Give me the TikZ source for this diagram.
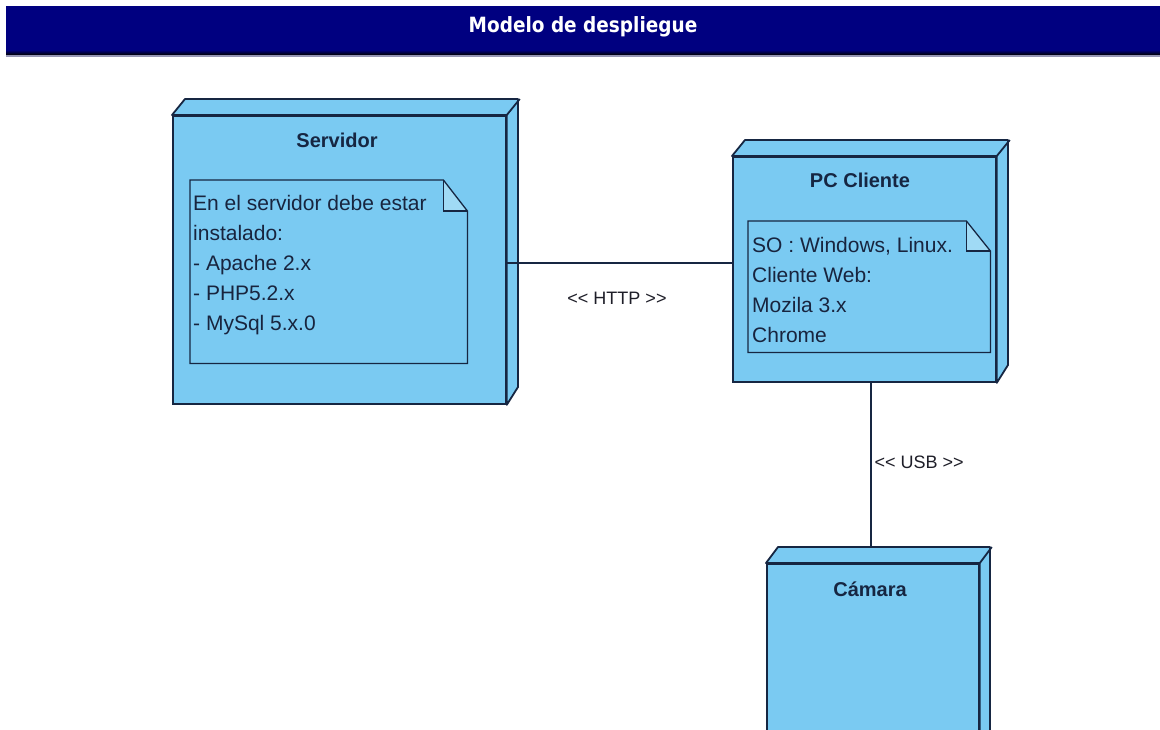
\documentclass[tikz,border=0pt]{standalone}
\usepackage{fontspec}
\setmainfont{Liberation Sans}
\newfontfamily\titlefont{DejaVu Sans}[FakeStretch=0.88]
\definecolor{nodefill}{RGB}{122,202,242}
\definecolor{foldfill}{RGB}{160,218,245}
\definecolor{edge}{RGB}{22,38,66}
\definecolor{navybar}{RGB}{0,0,128}
\definecolor{notetext}{RGB}{24,36,62}
\definecolor{labeltext}{RGB}{30,30,40}
\definecolor{barline}{RGB}{150,150,180}
\tikzset{
  front/.style={draw=edge, fill=nodefill, line width=1.8pt, inner sep=0pt, anchor=north west},
  side/.style={draw=edge, fill=nodefill, line width=1.8pt, line join=round},
  notearea/.style={inner sep=0pt, anchor=north west},
  noteline/.style={draw=edge, line width=1.3pt, line join=miter},
  notetxt/.style={inner sep=0pt, anchor=north west, align=left, text=notetext, font=\fontsize{21}{30}\selectfont},
  ntitle/.style={text=edge, font=\fontsize{20}{24}\selectfont\bfseries},
  conn/.style={draw=edge, line width=1.5pt},
  lbl/.style={text=labeltext, font=\fontsize{18}{22}\selectfont},
}
\begin{document}
\begin{tikzpicture}[x=1pt,y=-1pt]
\useasboundingbox (0,0) rectangle (1160,729);
\clip (0,0) rectangle (1160,729);
\fill[white] (0,0) rectangle (1160,729);
% title bar
\fill[navybar] (6,6) rectangle (1160,50);
\shade[top color=navybar, bottom color=black] (6,50) rectangle (1160,55);
\fill[barline] (6,55) rectangle (1160,57);
\node[text=white, font=\titlefont\fontsize{21}{24}\selectfont\bfseries] (title) at (583,27) {Modelo de despliegue};

% ---- Servidor ----
\node[front, minimum width=333pt, minimum height=288pt] (srv) at (172,115) {};
\draw[side] (srv.north west) -- ++(13,-16) -- ++(333,0) -- ++(0,288) -- (srv.south east) -- (srv.north east) -- cycle;
\draw[side] (srv.north east) -- ++(13,-16);
\node[ntitle] (srvt) at (337,140) {Servidor};
\node[notearea, minimum width=277pt, minimum height=183pt] (srvn) at (190,180) {};
\fill[nodefill] (srvn.north west) -- ([xshift=-24pt]srvn.north east) -- ([yshift=-31pt]srvn.north east) -- (srvn.south east) -- (srvn.south west) -- cycle;
\fill[foldfill] ([xshift=-24pt]srvn.north east) -- ([yshift=-31pt]srvn.north east) -- ([xshift=-24pt,yshift=-31pt]srvn.north east) -- cycle;
\draw[noteline] (srvn.north west) -- ([xshift=-24pt]srvn.north east) -- ([yshift=-31pt]srvn.north east) -- (srvn.south east) -- (srvn.south west) -- cycle;
\draw[noteline] ([xshift=-24pt]srvn.north east) -- ([xshift=-24pt,yshift=-31pt]srvn.north east) -- ([yshift=-31pt]srvn.north east);
\node[notetxt] (srvtx) at (193,195) {En el servidor debe estar\\instalado:\\- Apache 2.x\\- PHP5.2.x\\- MySql 5.x.0};

% ---- PC Cliente ----
\node[front, minimum width=263pt, minimum height=225pt] (pc) at (732,156) {};
\draw[side] (pc.north west) -- ++(13,-16) -- ++(263,0) -- ++(0,225) -- (pc.south east) -- (pc.north east) -- cycle;
\draw[side] (pc.north east) -- ++(13,-16);
\node[ntitle] (pct) at (860,180) {PC Cliente};
\node[notearea, minimum width=242pt, minimum height=131pt] (pcn) at (748,221) {};
\fill[nodefill] (pcn.north west) -- ([xshift=-24pt]pcn.north east) -- ([yshift=-30pt]pcn.north east) -- (pcn.south east) -- (pcn.south west) -- cycle;
\fill[foldfill] ([xshift=-24pt]pcn.north east) -- ([yshift=-30pt]pcn.north east) -- ([xshift=-24pt,yshift=-30pt]pcn.north east) -- cycle;
\draw[noteline] (pcn.north west) -- ([xshift=-24pt]pcn.north east) -- ([yshift=-30pt]pcn.north east) -- (pcn.south east) -- (pcn.south west) -- cycle;
\draw[noteline] ([xshift=-24pt]pcn.north east) -- ([xshift=-24pt,yshift=-30pt]pcn.north east) -- ([yshift=-30pt]pcn.north east);
\node[notetxt] (pctx) at (752,237) {SO : Windows, Linux.\\Cliente Web:\\Mozila 3.x\\Chrome};

% ---- Camara ----
\node[front, minimum width=212pt, minimum height=200pt] (cam) at (766,563) {};
\draw[side] (cam.north west) -- ++(12,-16) -- ++(212,0) -- ++(0,200) -- (cam.south east) -- (cam.north east) -- cycle;
\draw[side] (cam.north east) -- ++(12,-16);
\node[ntitle] (camt) at (870,589) {Cámara};

% ---- connectors ----
\draw[conn] ([yshift=-3pt]srv.east) -- ([yshift=-3pt]srv.east -| pc.west);
\node[lbl] (http) at (617,298) {<\kern0pt< HTTP >\kern0pt>};
\draw[conn] ([xshift=-2pt]pc.south -| cam.north) -- ([xshift=-2pt,yshift=16pt]cam.north);
\node[lbl, anchor=west] (usb) at (871,462) {<\kern0pt< USB >\kern0pt>};
\end{tikzpicture}
\end{document}
